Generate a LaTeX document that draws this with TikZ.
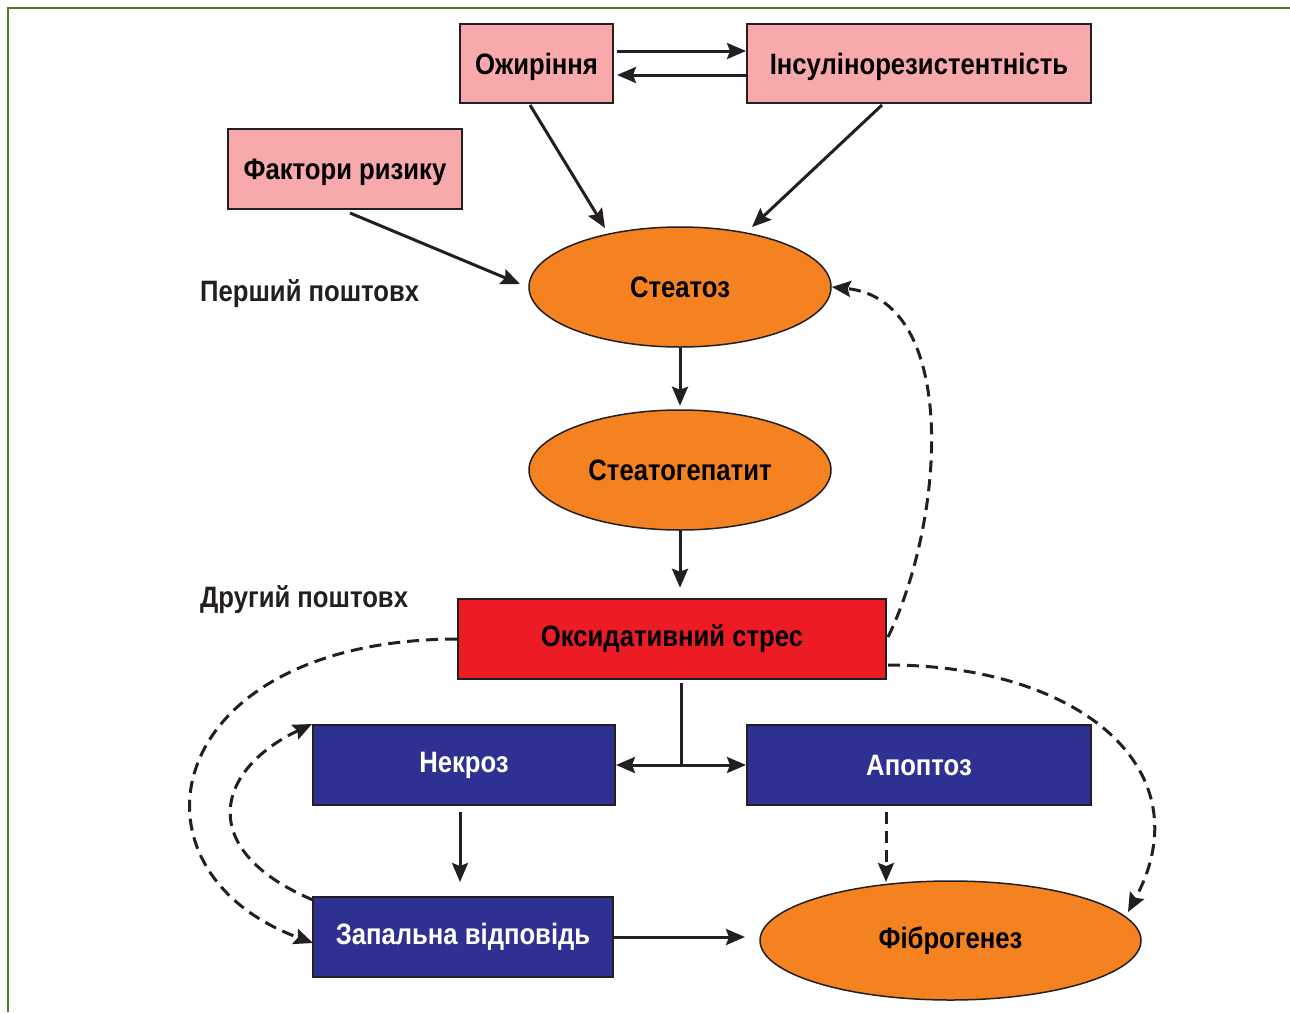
\documentclass[tikz,border=0pt]{standalone}
\usepackage{fontspec}
\setmainfont[FakeStretch=0.87]{Liberation Sans}
\usetikzlibrary{arrows.meta,shapes.geometric}
\definecolor{pinkf}{HTML}{F7A9AC}
\definecolor{orangef}{HTML}{F58220}
\definecolor{redf}{HTML}{ED1C24}
\definecolor{bluef}{HTML}{2E3192}
\definecolor{edge}{HTML}{231F20}
\definecolor{frame}{HTML}{4E7A30}
\tikzset{
  box/.style={draw=edge, line width=2pt, inner sep=0pt, font=\bfseries\fontsize{29.5}{33}\selectfont},
  pinkbox/.style={box, fill=pinkf, text=black},
  bluebox/.style={box, fill=bluef, text=white},
  redbox/.style={box, fill=redf, text=black},
  oval/.style={ellipse, draw=edge, line width=1.5pt, fill=orangef, inner sep=0pt, font=\bfseries\fontsize{29.5}{33}\selectfont},
  lbl/.style={font=\bfseries\fontsize{29.5}{33}\selectfont, text=edge, anchor=west, inner sep=0pt},
  arr/.style={draw=edge, line width=3pt, -{Stealth[length=19pt,width=16pt,inset=3pt]}},
  darr/.style={arr, dash pattern=on 12pt off 7pt},
}
\begin{document}
\begin{tikzpicture}[x=1pt,y=-1pt]
\useasboundingbox (0,0) rectangle (1290,1012);
\fill[white] (0,0) rectangle (1290,1012);
\draw[frame, line width=2pt] (8,1012) -- (8,8) -- (1290,8);

\node[pinkbox, minimum width=153pt, minimum height=79pt, text depth=-2pt] (ozh) at (536.5,63.5) {Ожиріння};
\node[pinkbox, minimum width=344pt, minimum height=79pt, text depth=-2pt] (ins) at (919,63.5) {Інсулінорезистентність};
\node[pinkbox, minimum width=234pt, minimum height=80pt, text depth=-2pt] (fak) at (345,169) {Фактори ризику};
\node[oval, minimum width=302pt, minimum height=120pt] (ste) at (680,287) {Стеатоз};
\node[oval, minimum width=302pt, minimum height=120pt] (stg) at (680,470) {Стеатогепатит};
\node[redbox, minimum width=428pt, minimum height=80pt] (oks) at (672,639) {Оксидативний стрес};
\node[bluebox, minimum width=302pt, minimum height=80pt] (nek) at (464,765) {Некроз};
\node[bluebox, minimum width=344pt, minimum height=80pt] (apo) at (919,765) {Апоптоз};
\node[bluebox, minimum width=300pt, minimum height=80pt] (zap) at (463,937) {Запальна відповідь};
\node[oval, minimum width=381pt, minimum height=119pt] (fib) at (950.5,940.5) {Фіброгенез};

\node[lbl] (l1) at (200,294) {Перший поштовх};
\node[lbl] (l2) at (200,600) {Другий поштовх};

\coordinate (b) at (681,765);
\coordinate (t1) at (617,51);
\coordinate (t2) at (617,75);
\draw[arr] (t1) -- (ins.west |- t1);
\draw[arr] (ins.west |- t2) -- (t2);
\draw[arr] (530,105) -- (605,228);
\draw[arr] (882,105) -- (752,227);
\draw[arr] (350,213) -- (520,284);
\draw[arr] (ste.south) -- ++(0,58);
\draw[arr] (stg.south) -- ++(0,57);
\draw[draw=edge, line width=3pt] (681,683) -- (b);
\draw[arr] (b) -- (nek.east);
\draw[arr] (b) -- (apo.west);
\draw[arr] (460,812) -- (460,882);
\draw[arr] (zap.east) -- ++(131,0);
\draw[darr] (886,812) -- (886,882);
\draw[darr] (888,637) .. controls (945,520) and (960,300) .. (ste.east);
\draw[darr] (888,665) .. controls (1080,665) and (1205,770) .. (1128,912);
\draw[darr] (oks.west) .. controls (160,640) and (115,870) .. (313,943);
\draw[darr] (313,900) .. controls (195,850) and (215,770) .. (nek.north west);
\end{tikzpicture}
\end{document}
